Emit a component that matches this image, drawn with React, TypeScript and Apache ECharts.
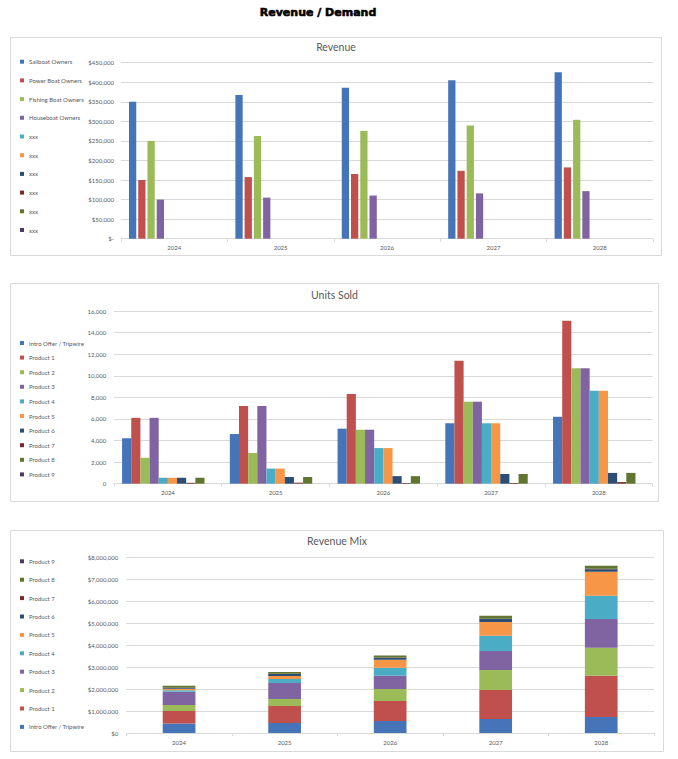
import React, { useEffect, useRef } from "react";
import * as echarts from "echarts";

const years = ["2024", "2025", "2026", "2027", "2028"];

// Revenue (by customer segment)
const revenueNames = [
  "Sailboat Owners",
  "Power Boat Owners",
  "Fishing Boat Owners",
  "Houseboat Owners",
  "xxx#1",
  "xxx#2",
  "xxx#3",
  "xxx#4",
  "xxx#5",
  "xxx#6",
];
const sailboat = [350000, 367500, 385900, 405200, 425400];
const powerBoat = [150000, 157500, 165400, 173600, 182300];
const fishingBoat = [250000, 262500, 275600, 289400, 303900];
const houseboat = [100000, 105000, 110300, 115800, 121600];
const xxxEmpty = [0, 0, 0, 0, 0];
const revenueValues = [sailboat, powerBoat, fishingBoat, houseboat, xxxEmpty, xxxEmpty, xxxEmpty, xxxEmpty, xxxEmpty, xxxEmpty];
const revenueTicks = [0, 50000, 100000, 150000, 200000, 250000, 300000, 350000, 400000, 450000];

// Units sold (by product)
const productNames = [
  "Intro Offer / Tripwire",
  "Product 1",
  "Product 2",
  "Product 3",
  "Product 4",
  "Product 5",
  "Product 6",
  "Product 7",
  "Product 8",
  "Product 9",
];
const unitsIntro = [4200, 4600, 5100, 5600, 6200];
const unitsP1 = [6100, 7200, 8300, 11400, 15100];
const unitsP2 = [2400, 2850, 5000, 7600, 10700];
const unitsP3 = [6100, 7200, 5000, 7600, 10700];
const unitsP4 = [550, 1400, 3300, 5600, 8600];
const unitsP5 = [550, 1400, 3300, 5600, 8600];
const unitsP6 = [550, 620, 700, 900, 1000];
const unitsP7 = [80, 90, 60, 60, 150];
const unitsP8 = [550, 620, 700, 900, 1000];
const unitsP9 = [0, 0, 0, 0, 0];
const unitsValues = [unitsIntro, unitsP1, unitsP2, unitsP3, unitsP4, unitsP5, unitsP6, unitsP7, unitsP8, unitsP9];

// Revenue mix (stacked, by product)
const mixIntro = [430000, 455000, 545000, 636000, 727000];
const mixP1 = [570000, 772000, 910000, 1320000, 1880000];
const mixP2 = [270000, 318000, 545000, 909000, 1270000];
const mixP3 = [610000, 727000, 605000, 864000, 1300000];
const mixP4 = [60000, 182000, 364000, 695000, 1060000];
const mixP5 = [70000, 136000, 364000, 623000, 1090000];
const mixP6 = [40000, 90000, 91000, 136000, 120000];
const mixP7 = [10000, 10000, 5000, 5000, 20000];
const mixP8 = [90000, 80000, 90000, 136000, 130000];
const mixP9 = [0, 0, 0, 0, 0];
const mixValues = [mixIntro, mixP1, mixP2, mixP3, mixP4, mixP5, mixP6, mixP7, mixP8, mixP9];

const palette = [
  "#4674B8",
  "#C0504D",
  "#9BBB59",
  "#8064A2",
  "#4BACC6",
  "#F79646",
  "#2C4D75",
  "#772C2A",
  "#5F7530",
  "#4D3B62",
];

const FONT = "Lato";
const GRAY = "#595959";
const LINE = "#d9d9d9";

const fmtMoney = (v: number) => "$" + v.toLocaleString("en-US");

function App() {
  const ref = useRef<HTMLDivElement>(null);

  useEffect(() => {
    if (!ref.current) return;
    const chart = echarts.init(ref.current, null, { renderer: "svg" });

    const xAxisBase = (gridIndex: number) => ({
      type: "category",
      gridIndex,
      data: years,
      axisLine: { lineStyle: { color: LINE, width: 1 } },
      axisTick: { show: true, length: 3, lineStyle: { color: LINE } },
      axisLabel: { fontSize: 6, color: GRAY, fontFamily: FONT, margin: 6 },
      splitLine: { show: false },
    });
    const yAxisBase = (gridIndex: number, max: number, interval: number, formatter: (v: number) => string, margin: number) => ({
      type: "value",
      gridIndex,
      min: 0,
      max,
      interval,
      axisLine: { show: false },
      axisTick: { show: false },
      axisLabel: { fontSize: 6, color: GRAY, fontFamily: FONT, margin, formatter },
      splitLine: { lineStyle: { color: LINE, width: 1 } },
    });

    const legendBase = (names: string[], top: number, itemGap: number) => ({
      orient: "vertical",
      left: 20,
      top,
      padding: 0,
      itemGap,
      itemWidth: 4,
      itemHeight: 4,
      itemTextGap: 2,
      icon: "rect",
      data: names,
      selectedMode: false,
      formatter: (n: string) => n.split("#")[0],
      textStyle: { fontSize: 6, color: GRAY, fontFamily: FONT, lineHeight: 8 },
    });

    const series: any[] = [];
    revenueNames.forEach((name, i) => {
      series.push({
        type: "bar",
        name,
        xAxisIndex: 0,
        yAxisIndex: 0,
        data: revenueValues[i],
        itemStyle: { color: palette[i] },
        barGap: "27%",
        barCategoryGap: "15%",
      });
    });
    productNames.forEach((name, i) => {
      series.push({
        type: "bar",
        name: name + "#u",
        xAxisIndex: 1,
        yAxisIndex: 1,
        data: unitsValues[i],
        itemStyle: { color: palette[i] },
        barGap: "0%",
        barCategoryGap: "15%",
      });
    });
    productNames.forEach((name, i) => {
      series.push({
        type: "bar",
        name: name + "#m",
        xAxisIndex: 2,
        yAxisIndex: 2,
        stack: "mix",
        data: mixValues[i],
        itemStyle: { color: palette[i] },
        barCategoryGap: "69%",
      });
    });

    const titleStyle = { fontSize: 10.5, fontWeight: "normal", color: GRAY, fontFamily: FONT };

    chart.setOption({
      animation: false,
      backgroundColor: "#ffffff",
      title: [
        {
          text: "Revenue / Demand",
          left: 318,
          top: 7,
          padding: 0,
          textAlign: "center",
          textStyle: {
            fontSize: 11,
            fontWeight: "bold",
            color: "#000000",
            fontFamily: "DejaVu Sans",
            textBorderColor: "#000000",
            textBorderWidth: 0.6,
          },
        },
        { text: "Revenue", left: 336, top: 41.5, padding: 0, textAlign: "center", textStyle: titleStyle },
        { text: "Units Sold", left: 334.5, top: 289.5, padding: 0, textAlign: "center", textStyle: titleStyle },
        { text: "Revenue Mix", left: 337, top: 535.5, padding: 0, textAlign: "center", textStyle: titleStyle },
      ],
      legend: [
        legendBase(revenueNames, 57.7, 10.7),
        legendBase(productNames.map((n) => n + "#u"), 339, 6.6),
        legendBase(productNames.map((n) => n + "#m").reverse(), 557.3, 10.4),
      ],
      grid: [
        { left: 121, right: 25, top: 62.7, bottom: 759 - 238.7, outerBoundsMode: "none" },
        { left: 114, right: 25.3, top: 311, bottom: 759 - 483.7, outerBoundsMode: "none" },
        { left: 126.3, right: 24, top: 557, bottom: 759 - 733, outerBoundsMode: "none" },
      ],
      xAxis: [xAxisBase(0), xAxisBase(1), xAxisBase(2)],
      yAxis: [
        yAxisBase(0, revenueTicks[revenueTicks.length - 1], revenueTicks[1], (v: number) => (v === 0 ? "$-" : fmtMoney(v)), 7),
        yAxisBase(1, 16000, 2000, (v: number) => v.toLocaleString("en-US"), 7.7),
        yAxisBase(2, 8000000, 1000000, (v: number) => fmtMoney(v), 8),
      ],
      graphic: [
        { type: "rect", shape: { x: 10.5, y: 37.5, width: 651, height: 218 }, style: { fill: "none", stroke: LINE, lineWidth: 1 }, silent: true },
        { type: "rect", shape: { x: 10.5, y: 283.5, width: 648, height: 218 }, style: { fill: "none", stroke: LINE, lineWidth: 1 }, silent: true },
        { type: "rect", shape: { x: 10.5, y: 530.5, width: 653, height: 221 }, style: { fill: "none", stroke: LINE, lineWidth: 1 }, silent: true },
      ],
      series,
    });

    return () => {
      chart.dispose();
    };
  }, []);

  return (
    <div
      ref={ref}
      style={{ position: "absolute", left: 0, top: 0, width: 678, height: 759, background: "#ffffff" }}
    />
  );
}

export default App;
